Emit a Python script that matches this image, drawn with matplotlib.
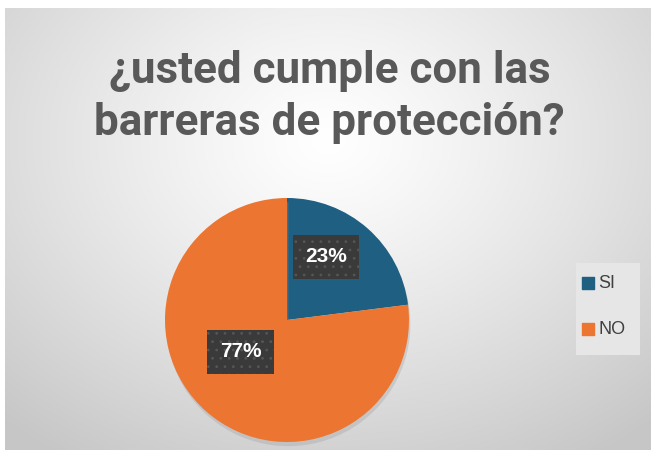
import numpy as np
import matplotlib
matplotlib.use("Agg")
import matplotlib.pyplot as plt
import matplotlib.patheffects as pe

title = "¿usted cumple con las\nbarreras de protección?"
categories = ["SI", "NO"]
values = [23, 77]
colors = ["#1F6082", "#EC7531"]

plt.rcParams["hatch.linewidth"] = 0.8

W, H = 651, 450
fig = plt.figure(figsize=(W / 100, H / 100), dpi=100)
fig.patch.set_facecolor("white")

# background panel with radial gradient
bx0, by0 = 5 / W, 0
bw, bh = 1 - 5 / W, 1 - 8 / H
bg = fig.add_axes([bx0, by0, bw, bh])
yy, xx = np.mgrid[0:1:300j, 0:1:450j]
r = np.sqrt(((xx - 0.5) / 0.75) ** 2 + ((yy - 0.3) / 0.85) ** 2)
r = np.clip(r, 0, 1)
light = 1.0 - 0.22 * r ** 1.2
img = np.dstack([light, light, light])
bg.imshow(img, extent=[0, 1, 1, 0], aspect="auto", interpolation="bilinear")
bg.set_axis_off()

fig.text(0.5 + 4 / W, 1 - 97 / H, title, ha="center", va="center",
         fontsize=31.7, fontweight="bold", color="#595959",
         family=["Roboto", "DejaVu Sans"], linespacing=1.3)

# pie
cx, cy, rad = 287, 320, 122
ax = fig.add_axes([(cx - rad) / W, 1 - (cy + rad) / H, 2 * rad / W, 2 * rad / H])
wedges, _ = ax.pie(values, colors=colors, startangle=90, counterclock=False,
                   radius=1.0, wedgeprops=dict(linewidth=0))
for w in wedges:
    w.set_path_effects([pe.SimplePatchShadow(offset=(1, -3), shadow_rgbFace="#999999", alpha=0.3),
                        pe.Normal()])
ax.set_xlim(-1, 1)
ax.set_ylim(-1, 1)
ax.set_aspect("equal")

label_pos = [(0.32, 0.52), (-0.38, -0.26)]
for (lx, ly), v in zip(label_pos, values):
    ax.text(lx, ly, f"{v}%", ha="center", va="center", fontsize=15,
            fontweight="bold", color="white", family=["Liberation Sans", "DejaVu Sans"],
            bbox=dict(boxstyle="square,pad=0.6", facecolor="#3a3a3a",
                      edgecolor="#555555", linewidth=0, hatch=".."))

# legend
lax = fig.add_axes([576 / W, 1 - 355 / H, 64 / W, 92 / H])
lax.set_facecolor("#e6e6e6")
lax.set_xticks([]); lax.set_yticks([])
for s in lax.spines.values():
    s.set_visible(False)
lax.set_xlim(0, 1); lax.set_ylim(0, 1)
for i, (c, lab) in enumerate(zip(colors, categories)):
    y = 0.78 - i * 0.5
    lax.scatter([0.19], [y], marker="s", s=75, color=c)
    lax.text(0.35, y, lab, va="center", ha="left", fontsize=13, color="#404040",
             family=["Liberation Sans", "DejaVu Sans"])

fig.savefig("out.png", dpi=100)
